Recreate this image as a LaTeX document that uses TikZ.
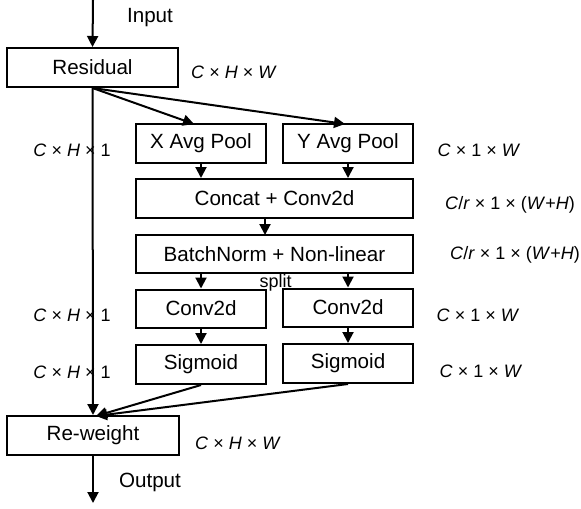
\documentclass[tikz,border=0pt]{standalone}
\usepackage{fontspec}
\setmainfont{Liberation Sans}
\usetikzlibrary{arrows.meta}
\begin{document}
\begin{tikzpicture}[x=0.5pt,y=-0.5pt,
  box/.style={draw,line width=1pt,inner sep=0pt,minimum height=19.5pt,font=\fontsize{10.3}{12}\selectfont},
  dim/.style={inner sep=0pt,font=\fontsize{9}{11}\selectfont},
  lbl/.style={inner sep=0pt,font=\fontsize{10.3}{12}\selectfont},
  arr/.style={line width=1pt,-{Triangle[length=5.5pt,width=5.5pt]}},
  ln/.style={line width=1pt}]
\useasboundingbox (0,0) rectangle (581,508);
% boxes
\node[box,minimum width=85.5pt] (res) at (92.5,67.5) {Residual};
\node[box,minimum width=65pt] (xap) at (201,143.5) {X Avg Pool};
\node[box,minimum width=65pt] (yap) at (348,143.5) {Y Avg Pool};
\node[box,minimum width=138.5pt] (cat) at (274.5,198.5) {Concat + Conv2d};
\node[box,minimum width=138.5pt,minimum height=19pt] (bn) at (274.5,254) {BatchNorm + Non-linear};
\node[box,minimum width=65pt,minimum height=19pt] (c1) at (201,308.5) {Conv2d};
\node[box,minimum width=65pt,minimum height=19pt] (c2) at (348,307.5) {Conv2d};
\node[box,minimum width=65pt] (s1) at (201,364.5) {Sigmoid};
\node[box,minimum width=65pt] (s2) at (348,363.5) {Sigmoid};
\node[box,minimum width=86pt] (rw) at (93,435.5) {Re-weight};
% text labels
\node[lbl] (in) at (150,18) {Input};
\node[lbl] (out) at (150,482) {Output};
\node[lbl,font=\fontsize{9}{11}\selectfont] (sp) at (275.5,283) {split};
\node[dim] (d1) at (234,72) {\textit{C} × \textit{H} × \textit{W}};
\node[dim] (d2) at (72,150) {\textit{C} × \textit{H} × 1};
\node[dim] (d3) at (479,150) {\textit{C} × 1 × \textit{W}};
\node[dim] (d4) at (510,205) {\textit{C}/\textit{r} × 1 × (\textit{W}+\textit{H})};
\node[dim] (d5) at (515,255) {\textit{C}/\textit{r} × 1 × (\textit{W}+\textit{H})};
\node[dim] (d6) at (72,315) {\textit{C} × \textit{H} × 1};
\node[dim] (d7) at (478,315) {\textit{C} × 1 × \textit{W}};
\node[dim] (d8) at (72,372) {\textit{C} × \textit{H} × 1};
\node[dim] (d9) at (481,371) {\textit{C} × 1 × \textit{W}};
\node[dim] (d10) at (238,443) {\textit{C} × \textit{H} × \textit{W}};
% coordinates
\coordinate (top) at (93,0);
\coordinate (bot) at (93,503);
\coordinate (xin) at (194,124);
\coordinate (yin) at (345,124);
\coordinate (rin) at (96,416);
% connectors
\draw[arr] (top) -- (res.north);
\draw[arr] (res.south) -- (xin);
\draw[arr] (res.south) -- (yin);
\draw[arr] (res.south) -- (rw.north);
\draw[arr] (xap.south) -- (xap.south |- cat.north);
\draw[arr] (yap.south) -- (yap.south |- cat.north);
\draw[arr] (265,217.8) -- (265,235);
\draw[arr] (bn.south -| c1.north) -- (c1.north);
\draw[arr] (bn.south -| c2.north) -- (c2.north);
\draw[arr] (c1.south) -- (s1.north);
\draw[arr] (c2.south) -- (s2.north);
\draw[arr] (s1.south) -- (rin);
\draw[arr] (s2.south) -- (rin);
\draw[arr] (rw.south) -- (bot);
\end{tikzpicture}
\end{document}
